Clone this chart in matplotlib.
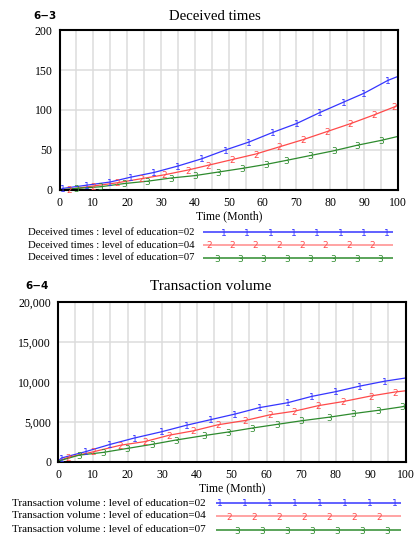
import numpy as np
import matplotlib
matplotlib.use('Agg')
import matplotlib.pyplot as plt

plt.rcParams['font.family'] = ['Liberation Serif', 'DejaVu Serif']

# ---- Deceived times (6-3) ----
dec_t1 = [0, 1, 8, 15, 21, 28, 35, 42, 49, 56, 63, 70, 77, 84, 90, 97, 100]
dec_v1 = [0, 2, 6, 10, 16, 22, 30, 39, 50, 60, 72, 83, 97, 110, 121, 137, 142]
dec_t2 = [0, 3, 10, 17, 24, 31, 38, 44, 51, 58, 65, 72, 79, 86, 93, 99, 100]
dec_v2 = [0, 1, 5, 9, 14, 19, 25, 31, 38, 45, 54, 63, 73, 83, 94, 104, 106]
dec_t3 = [0, 5, 12, 19, 26, 33, 40, 47, 54, 61, 67, 74, 81, 88, 95, 100]
dec_v3 = [0, 2, 4, 8, 11, 15, 18, 22.5, 27, 32, 37, 43, 49, 56, 62, 67]

# ---- Transaction volume (6-4) ----
tv_t1 = [0, 1, 8, 15, 22, 30, 37, 44, 51, 58, 66, 73, 80, 87, 94, 100]
tv_v1 = [100, 500, 1300, 2200, 3000, 3800, 4600, 5300, 6000, 6800, 7400, 8200, 8800, 9500, 10100, 10500]
tv_t2 = [0, 3, 10, 18, 25, 32, 39, 46, 54, 61, 68, 75, 82, 90, 97, 100]
tv_v2 = [100, 600, 1260, 2100, 2550, 3350, 3900, 4650, 5200, 5900, 6350, 7050, 7550, 8250, 8750, 8900]
tv_t3 = [0, 6, 13, 20, 27, 34, 42, 49, 56, 63, 70, 78, 85, 92, 99, 100]
tv_v3 = [100, 850, 1200, 1700, 2200, 2750, 3300, 3750, 4250, 4700, 5150, 5600, 6050, 6450, 6900, 7000]

levels = ['02', '04', '07']
colors = ['#3535ff', '#ff4a4a', '#2e8b2e']
leg_colors = ['#3535ff', '#ff8a8a', '#2e8b2e']
marks = ['1', '2', '3']

W, H = 416, 538
fig = plt.figure(figsize=(W / 100, H / 100), dpi=100)


def fx(px):
    return px / W


def fy(py):
    return 1 - py / H


def draw_series(ax, t, v, c, m):
    ax.plot(t, v, color=c, lw=0.9, solid_capstyle='butt')
    for x, y in zip(t[1:-1], v[1:-1]):
        ax.text(x, y, m, color=c, fontsize=6.5, ha='center', va='center_baseline',
                family='DejaVu Sans', clip_on=False)


def panel(rect, series, ymax, ystep, yfmt, title, tag, tag_x, tag_y, title_x, title_fs):
    ax = fig.add_axes(rect)
    for (t, v), c, m in zip(series, colors, marks):
        draw_series(ax, t, v, c, m)
    ax.set_xlim(0, 100)
    ax.set_ylim(0, ymax)
    ax.set_xticks(np.arange(0, 101, 10))
    ax.set_xticks(np.arange(0, 101, 5), minor=True)
    ax.set_yticks(np.arange(0, ymax + 1, ystep))
    ax.set_yticklabels([yfmt(v) for v in np.arange(0, ymax + 1, ystep)])
    ax.grid(True, which='both', axis='x', color='#dcdcdc', lw=1.1)
    ax.grid(True, which='major', axis='y', color='#dcdcdc', lw=1.1)
    ax.set_axisbelow(True)
    ax.tick_params(which='both', length=0, labelsize=8.5, pad=5)
    for s in ax.spines.values():
        s.set_linewidth(1.5)
    ax.set_xlabel('Time (Month)', fontsize=8.5, labelpad=1)
    fig.text(title_x, tag_y, title, ha='center', va='center', fontsize=title_fs)
    fig.text(fx(tag_x), tag_y, tag, ha='left', va='center', fontsize=7.5,
             fontweight='bold', family='DejaVu Sans')
    return ax


panel([fx(59.5), fy(190), fx(398) - fx(59.5), 160 / H],
      [(dec_t1, dec_v1), (dec_t2, dec_v2), (dec_t3, dec_v3)],
      200, 50, lambda v: f'{int(v)}', 'Deceived times', '6\u22123', 33, fy(16),
      fx(215), 10.6)

panel([fx(58), fy(462), fx(405.5) - fx(58), 160 / H],
      [(tv_t1, tv_v1), (tv_t2, tv_v2), (tv_t3, tv_v3)],
      20000, 5000, lambda v: f'{int(v):,}', 'Transaction volume', '6\u22124', 25, fy(286),
      fx(211), 11)


def legend(name, fs, text_right, line_x0, line_x1, row_ys, starts, step, counts):
    for lv, c, lc, m, ry, s0, n in zip(levels, colors, leg_colors, marks, row_ys, starts, counts):
        fig.text(fx(text_right), fy(ry), f'{name} : level of education={lv}',
                 ha='right', va='center', fontsize=fs)
        lax = fig.add_axes([fx(line_x0), fy(ry + 5), fx(line_x1 - line_x0), 10 / H])
        lax.set_xlim(line_x0, line_x1)
        lax.set_ylim(-1, 1)
        lax.axis('off')
        xs = [line_x0] + [s0 + i * step for i in range(n)] + [line_x1]
        lax.plot(xs, [0] * len(xs), color=lc, lw=1.1)
        for x in xs[1:-1]:
            lax.text(x, 0, m, color=c, fontsize=6.5, ha='center', va='center_baseline',
                     family='DejaVu Sans')


legend('Deceived times', 7.7, 194, 203, 393, [232, 245, 258], [224, 209, 217], 23.3, [8, 8, 8])
legend('Transaction volume', 8, 206, 216, 401, [503, 516, 530], [220, 229, 237], 25, [8, 7, 7])

fig.savefig('out.png', dpi=100)
